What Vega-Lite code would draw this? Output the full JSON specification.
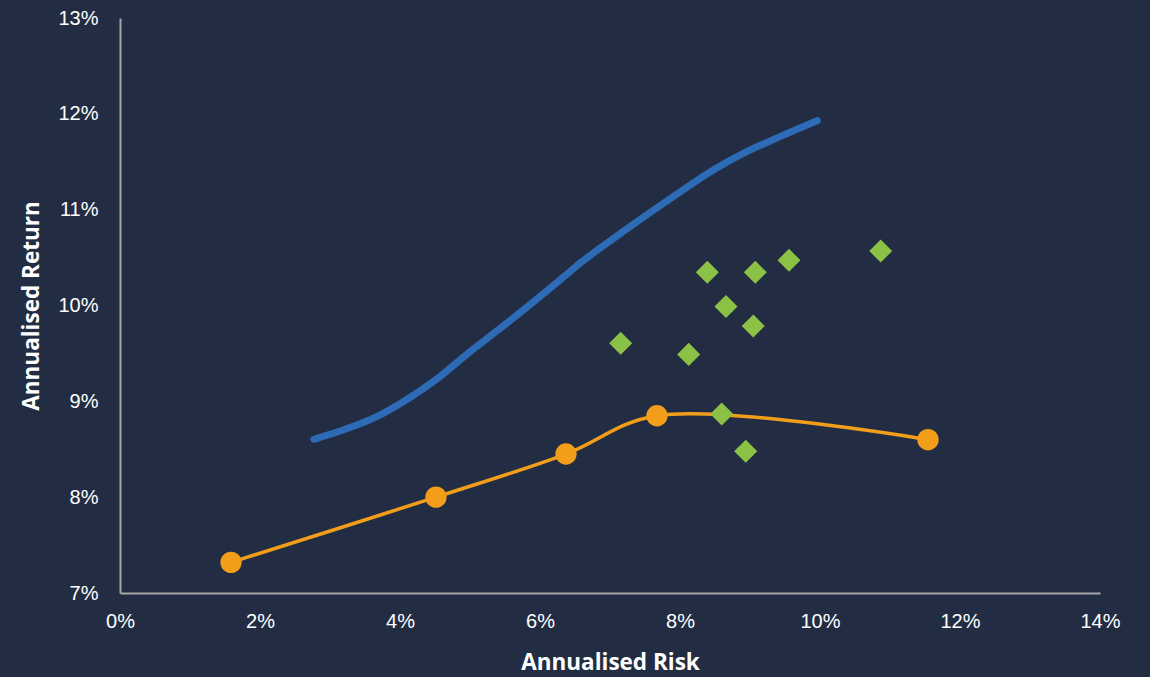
{
  "$schema": "https://vega.github.io/schema/vega-lite/v6.json",
  "autosize": "none",
  "width": 980,
  "height": 575,
  "padding": {"left": 120, "top": 18, "right": 50, "bottom": 84},
  "background": "#222d43",
  "config": {
    "view": {"stroke": null},
    "axis": {
      "grid": false,
      "ticks": false,
      "domainColor": "#a6a6a6",
      "domainWidth": 2,
      "labelColor": "#ffffff",
      "labelFont": "Liberation Sans",
      "labelFontSize": 20,
      "titleColor": "#ffffff",
      "titleFont": "Open Sans",
      "titleFontWeight": "bold",
      "titleFontSize": 22.5
    }
  },
  "datasets": {
    "frontier": [
      {"risk": 2.771, "ret": 8.604},
      {"risk": 3.143, "ret": 8.690},
      {"risk": 3.667, "ret": 8.840},
      {"risk": 4.047, "ret": 8.996},
      {"risk": 4.476, "ret": 9.205},
      {"risk": 5.0, "ret": 9.518},
      {"risk": 5.524, "ret": 9.814},
      {"risk": 6.286, "ret": 10.266},
      {"risk": 6.571, "ret": 10.440},
      {"risk": 7.286, "ret": 10.822},
      {"risk": 7.904, "ret": 11.135},
      {"risk": 8.476, "ret": 11.414},
      {"risk": 8.953, "ret": 11.605},
      {"risk": 9.429, "ret": 11.762},
      {"risk": 9.961, "ret": 11.929}
    ],
    "portfolios": [
      {"risk": 1.586, "ret": 7.32},
      {"risk": 4.514, "ret": 8.00},
      {"risk": 6.371, "ret": 8.45},
      {"risk": 7.671, "ret": 8.85},
      {"risk": 11.543, "ret": 8.60}
    ],
    "assets": [
      {"risk": 7.153, "ret": 9.606},
      {"risk": 8.39, "ret": 10.347},
      {"risk": 9.076, "ret": 10.347},
      {"risk": 9.557, "ret": 10.472},
      {"risk": 10.867, "ret": 10.569},
      {"risk": 8.657, "ret": 9.99},
      {"risk": 9.047, "ret": 9.786},
      {"risk": 8.124, "ret": 9.49},
      {"risk": 8.596, "ret": 8.868},
      {"risk": 8.939, "ret": 8.48}
    ]
  },
  "encoding": {
    "x": {
      "field": "risk", "type": "quantitative",
      "scale": {"domain": [0, 14], "nice": false, "zero": false},
      "axis": {"values": [0, 2, 4, 6, 8, 10, 12, 14], "labelExpr": "datum.value + '%'", "labelPadding": 18, "title": "Annualised Risk", "titlePadding": 20, "labelFlush": false}
    },
    "y": {
      "field": "ret", "type": "quantitative",
      "scale": {"domain": [7, 13], "nice": false, "zero": false},
      "axis": {"values": [7, 8, 9, 10, 11, 12, 13], "labelExpr": "datum.value + '%'", "labelPadding": 22, "title": "Annualised Return", "titlePadding": 14, "labelFlush": false}
    }
  },
  "layer": [
    {
      "data": {"name": "frontier"},
      "mark": {"type": "line", "color": "#2e6bb6", "strokeWidth": 7, "strokeCap": "round", "interpolate": "monotone"}
    },
    {
      "data": {"name": "portfolios"},
      "mark": {"type": "line", "color": "#f29e1b", "strokeWidth": 3.5, "interpolate": "catmull-rom"}
    },
    {
      "data": {"name": "portfolios"},
      "mark": {"type": "point", "shape": "circle", "filled": true, "color": "#f29e1b", "opacity": 1, "size": 455}
    },
    {
      "data": {"name": "assets"},
      "mark": {"type": "point", "shape": "diamond", "filled": true, "color": "#8bc144", "opacity": 1, "size": 530}
    }
  ]
}
